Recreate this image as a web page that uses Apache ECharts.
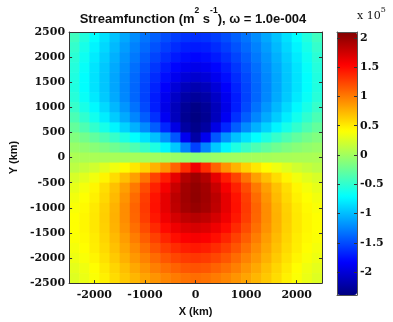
<!DOCTYPE html>
<html><head><meta charset="utf-8">
<script src="https://cdn.jsdelivr.net/npm/echarts@6/dist/echarts.min.js"></script>
<style>html,body{margin:0;padding:0;background:#fff}#c{width:393px;height:322px}</style>
</head><body><div id="c"></div>
<script>
// Grid cell centres (km)
const xKm = [-2400,-2200,-2000,-1800,-1600,-1400,-1200,-1000,-800,-600,-400,-200,0,200,400,600,800,1000,1200,1400,1600,1800,2000,2200,2400];
const yKm = [2400,2200,2000,1800,1600,1400,1200,1000,800,600,400,200,0,-200,-400,-600,-800,-1000,-1200,-1400,-1600,-1800,-2000,-2200,-2400];
// Streamfunction (x 10^5 m^2 s^-1), one row per y
const psi_y2400 = [-0.43,-0.56,-0.70,-0.84,-0.97,-1.09,-1.21,-1.32,-1.41,-1.49,-1.56,-1.61,-1.63,-1.61,-1.56,-1.49,-1.41,-1.32,-1.21,-1.09,-0.97,-0.84,-0.70,-0.56,-0.43];
const psi_y2200 = [-0.48,-0.61,-0.75,-0.88,-1.01,-1.14,-1.26,-1.37,-1.47,-1.56,-1.64,-1.70,-1.72,-1.70,-1.64,-1.56,-1.47,-1.37,-1.26,-1.14,-1.01,-0.88,-0.75,-0.61,-0.48];
const psi_y2000 = [-0.52,-0.65,-0.79,-0.92,-1.05,-1.18,-1.30,-1.42,-1.53,-1.63,-1.72,-1.78,-1.81,-1.78,-1.72,-1.63,-1.53,-1.42,-1.30,-1.18,-1.05,-0.92,-0.79,-0.65,-0.52];
const psi_y1800 = [-0.55,-0.68,-0.82,-0.95,-1.08,-1.21,-1.34,-1.47,-1.59,-1.71,-1.81,-1.89,-1.92,-1.89,-1.81,-1.71,-1.59,-1.47,-1.34,-1.21,-1.08,-0.95,-0.82,-0.68,-0.55];
const psi_y1600 = [-0.57,-0.70,-0.83,-0.96,-1.10,-1.23,-1.37,-1.51,-1.64,-1.77,-1.90,-2.00,-2.04,-2.00,-1.90,-1.77,-1.64,-1.51,-1.37,-1.23,-1.10,-0.96,-0.83,-0.70,-0.57];
const psi_y1400 = [-0.57,-0.70,-0.83,-0.96,-1.10,-1.24,-1.38,-1.53,-1.68,-1.84,-2.00,-2.13,-2.18,-2.13,-2.00,-1.84,-1.68,-1.53,-1.38,-1.24,-1.10,-0.96,-0.83,-0.70,-0.57];
const psi_y1200 = [-0.54,-0.67,-0.80,-0.94,-1.08,-1.23,-1.38,-1.54,-1.71,-1.90,-2.08,-2.22,-2.27,-2.22,-2.08,-1.90,-1.71,-1.54,-1.38,-1.23,-1.08,-0.94,-0.80,-0.67,-0.54];
const psi_y1000 = [-0.47,-0.60,-0.73,-0.87,-1.02,-1.17,-1.33,-1.51,-1.70,-1.93,-2.13,-2.29,-2.36,-2.29,-2.13,-1.93,-1.70,-1.51,-1.33,-1.17,-1.02,-0.87,-0.73,-0.60,-0.47];
const psi_y800  = [-0.38,-0.50,-0.63,-0.78,-0.93,-1.08,-1.24,-1.42,-1.62,-1.88,-2.12,-2.31,-2.38,-2.31,-2.12,-1.88,-1.62,-1.42,-1.24,-1.08,-0.93,-0.78,-0.63,-0.50,-0.38];
const psi_y600  = [-0.27,-0.37,-0.49,-0.61,-0.75,-0.90,-1.05,-1.22,-1.42,-1.66,-1.95,-2.24,-2.34,-2.24,-1.95,-1.66,-1.42,-1.22,-1.05,-0.90,-0.75,-0.61,-0.49,-0.37,-0.27];
const psi_y400  = [-0.14,-0.20,-0.28,-0.37,-0.47,-0.58,-0.70,-0.83,-0.98,-1.18,-1.45,-1.90,-2.22,-1.90,-1.45,-1.18,-0.98,-0.83,-0.70,-0.58,-0.47,-0.37,-0.28,-0.20,-0.14];
const psi_y200  = [-0.04,-0.07,-0.11,-0.16,-0.22,-0.29,-0.37,-0.46,-0.58,-0.74,-0.95,-1.25,-1.55,-1.25,-0.95,-0.74,-0.58,-0.46,-0.37,-0.29,-0.22,-0.16,-0.11,-0.07,-0.04];
const psi_y0    = [0.05,0.04,0.04,0.03,0.03,0.02,0.02,0.01,0.00,-0.01,-0.03,-0.06,-0.10,-0.06,-0.03,-0.01,0.00,0.01,0.02,0.02,0.03,0.03,0.04,0.04,0.05];
const psi_ym200 = [0.12,0.16,0.21,0.28,0.35,0.43,0.52,0.62,0.75,0.90,1.10,1.35,1.60,1.35,1.10,0.90,0.75,0.62,0.52,0.43,0.35,0.28,0.21,0.16,0.12];
const psi_ym400 = [0.24,0.29,0.36,0.46,0.57,0.70,0.84,1.04,1.25,1.42,1.65,1.88,1.97,1.88,1.65,1.42,1.25,1.04,0.84,0.70,0.57,0.46,0.36,0.29,0.24];
const psi_ym600 = [0.31,0.37,0.45,0.56,0.69,0.84,1.01,1.21,1.40,1.58,1.78,1.95,2.02,1.95,1.78,1.58,1.40,1.21,1.01,0.84,0.69,0.56,0.45,0.37,0.31];
const psi_ym800 = [0.36,0.41,0.48,0.59,0.72,0.89,1.07,1.27,1.46,1.65,1.84,1.96,2.03,1.96,1.84,1.65,1.46,1.27,1.07,0.89,0.72,0.59,0.48,0.41,0.36];
const psi_ym1000 = [0.39,0.44,0.51,0.62,0.75,0.92,1.10,1.29,1.47,1.65,1.82,1.94,2.00,1.94,1.82,1.65,1.47,1.29,1.10,0.92,0.75,0.62,0.51,0.44,0.39];
const psi_ym1200 = [0.41,0.45,0.52,0.63,0.76,0.92,1.09,1.27,1.44,1.60,1.73,1.82,1.86,1.82,1.73,1.60,1.44,1.27,1.09,0.92,0.76,0.63,0.52,0.45,0.41];
const psi_ym1400 = [0.41,0.45,0.52,0.62,0.75,0.90,1.05,1.21,1.36,1.50,1.61,1.69,1.72,1.69,1.61,1.50,1.36,1.21,1.05,0.90,0.75,0.62,0.52,0.45,0.41];
const psi_ym1600 = [0.40,0.44,0.50,0.60,0.72,0.85,0.99,1.13,1.26,1.38,1.48,1.55,1.58,1.55,1.48,1.38,1.26,1.13,0.99,0.85,0.72,0.60,0.50,0.44,0.40];
const psi_ym1800 = [0.37,0.42,0.49,0.58,0.69,0.81,0.93,1.05,1.17,1.27,1.35,1.41,1.44,1.41,1.35,1.27,1.17,1.05,0.93,0.81,0.69,0.58,0.49,0.42,0.37];
const psi_ym2000 = [0.34,0.39,0.46,0.55,0.65,0.76,0.87,0.97,1.07,1.16,1.23,1.28,1.30,1.28,1.23,1.16,1.07,0.97,0.87,0.76,0.65,0.55,0.46,0.39,0.34];
const psi_ym2200 = [0.30,0.35,0.42,0.51,0.60,0.70,0.80,0.89,0.98,1.05,1.11,1.16,1.18,1.16,1.11,1.05,0.98,0.89,0.80,0.70,0.60,0.51,0.42,0.35,0.30];
const psi_ym2400 = [0.27,0.33,0.40,0.48,0.57,0.66,0.74,0.82,0.89,0.95,1.00,1.04,1.06,1.04,1.00,0.95,0.89,0.82,0.74,0.66,0.57,0.48,0.40,0.33,0.27];

const xTicks = [-2000,-1000,0,1000,2000];
const cbTicks = [-2,-1.5,-1,-0.5,0,0.5,1,1.5,2];
const cbMin = -2.39, cbMax = 2.1;

const psiRows = [psi_y2400,psi_y2200,psi_y2000,psi_y1800,psi_y1600,psi_y1400,psi_y1200,psi_y1000,psi_y800,psi_y600,psi_y400,psi_y200,psi_y0,
  psi_ym200,psi_ym400,psi_ym600,psi_ym800,psi_ym1000,psi_ym1200,psi_ym1400,psi_ym1600,psi_ym1800,psi_ym2000,psi_ym2200,psi_ym2400];

const cells = [];
yKm.forEach((y, i) => xKm.forEach((x, j) => cells.push([x, y, psiRows[i][j]])));
const half = (xKm[1] - xKm[0]) / 2;

const jet = ['#000080','#0000ff','#0080ff','#00ffff','#80ff80','#ffff00','#ff8000','#ff0000','#800000'];
const serifLbl = {fontFamily:'DejaVu Serif', fontWeight:'bold', fontSize:11, color:'#111'};
const sansName = {fontFamily:'Liberation Sans', fontWeight:'bold', fontSize:11, color:'#111'};
const fmt = v => String(v);

const chart = echarts.init(document.getElementById('c'), null, {renderer:'canvas'});
chart.setOption({
  animation:false,
  backgroundColor:'#fff',
  grid:[
    {left:63, top:32, width:259, height:253, show:false},
    {left:337, top:32, width:20, height:263, show:false}
  ],
  xAxis:[
    {gridIndex:0, type:'value', min:-2500, max:2500, position:'bottom', z:5,
     axisLine:{show:true, onZero:false, lineStyle:{color:'#333', width:1}},
     axisTick:{show:true, inside:true, length:3, customValues:xTicks, lineStyle:{color:'#333'}},
     axisLabel:Object.assign({customValues:xTicks, margin:7, formatter:fmt}, serifLbl),
     splitLine:{show:false},
     name:'X (km)', nameLocation:'middle', nameGap:20, nameTextStyle:sansName},
    {gridIndex:0, type:'value', min:-2500, max:2500, position:'top', z:5,
     axisLine:{show:true, onZero:false, lineStyle:{color:'#333', width:1}},
     axisTick:{show:true, inside:true, length:3, customValues:xTicks, lineStyle:{color:'#333'}},
     axisLabel:{show:false}, splitLine:{show:false}},
    {gridIndex:1, type:'value', min:0, max:1, position:'bottom', z:6,
     axisLine:{show:true, onZero:false, lineStyle:{color:'#555'}}, axisTick:{show:false}, axisLabel:{show:false}, splitLine:{show:false}},
    {gridIndex:1, type:'value', min:0, max:1, position:'top', z:6,
     axisLine:{show:true, onZero:false, lineStyle:{color:'#555'}}, axisTick:{show:false}, axisLabel:{show:false}, splitLine:{show:false}}
  ],
  yAxis:[
    {gridIndex:0, type:'value', min:-2500, max:2500, interval:500, position:'left', z:5,
     axisLine:{show:true, onZero:false, lineStyle:{color:'#333', width:1}},
     axisTick:{show:true, inside:true, length:3, lineStyle:{color:'#333'}},
     axisLabel:Object.assign({margin:4, formatter:fmt}, serifLbl),
     splitLine:{show:false},
     name:'Y (km)', nameLocation:'middle', nameGap:40, nameRotate:90, nameTextStyle:sansName},
    {gridIndex:0, type:'value', min:-2500, max:2500, interval:500, position:'right', z:5,
     axisLine:{show:true, onZero:false, lineStyle:{color:'#333', width:1}},
     axisTick:{show:true, inside:true, length:3, lineStyle:{color:'#333'}},
     axisLabel:{show:false}, splitLine:{show:false}},
    {gridIndex:1, type:'value', min:cbMin, max:cbMax, position:'right', z:6,
     axisLine:{show:true, onZero:false, lineStyle:{color:'#555'}},
     axisTick:{show:true, inside:true, length:3, customValues:cbTicks, lineStyle:{color:'#333'}},
     axisLabel:Object.assign({customValues:cbTicks, margin:3, formatter:fmt}, serifLbl),
     splitLine:{show:false}},
    {gridIndex:1, type:'value', min:cbMin, max:cbMax, position:'left', z:6,
     axisLine:{show:true, onZero:false, lineStyle:{color:'#555'}},
     axisTick:{show:true, inside:true, length:3, customValues:cbTicks, lineStyle:{color:'#333'}},
     axisLabel:{show:false}, splitLine:{show:false}}
  ],
  visualMap:{
    type:'continuous', min:cbMin, max:cbMax, dimension:2, seriesIndex:0,
    calculable:false, orient:'vertical', left:337, top:32, itemWidth:20, itemHeight:263,
    padding:0, text:null, showLabel:false, inRange:{color:jet}
  },
  series:[{
    type:'custom', xAxisIndex:0, yAxisIndex:0, clip:true, data:cells,
    encode:{x:0, y:1},
    renderItem:function(params, api){
      const x = api.value(0), y = api.value(1);
      const a = api.coord([x - half, y + half]);
      const b = api.coord([x + half, y - half]);
      return {type:'rect', shape:{x:a[0], y:a[1], width:b[0]-a[0]+0.6, height:b[1]-a[1]+0.6},
              style:{fill:api.visual('color')}};
    }
  }],
  graphic:[
    {type:'text', x:193, y:6, z:10, style:{
      text:'{b|Streamfunction (m}{s|2}{b| s}{s|-1}{b|), ω = 1.0e-004}',
      align:'center', verticalAlign:'top',
      rich:{
        b:{fontFamily:'Liberation Sans', fontWeight:'bold', fontSize:13, lineHeight:20, verticalAlign:'bottom', fill:'#111'},
        s:{fontFamily:'Liberation Sans', fontWeight:'bold', fontSize:8.5, lineHeight:15, verticalAlign:'top', fill:'#111'}
      }}},
    {type:'text', x:357, y:6, z:10, style:{
      text:'{n|x 10}{s|5}', align:'left', verticalAlign:'top',
      rich:{
        n:{fontFamily:'DejaVu Serif', fontSize:11, lineHeight:16, verticalAlign:'bottom', fill:'#111'},
        s:{fontFamily:'DejaVu Serif', fontSize:8, lineHeight:11, verticalAlign:'top', fill:'#111'}
      }}}
  ]
});
</script></body></html>
